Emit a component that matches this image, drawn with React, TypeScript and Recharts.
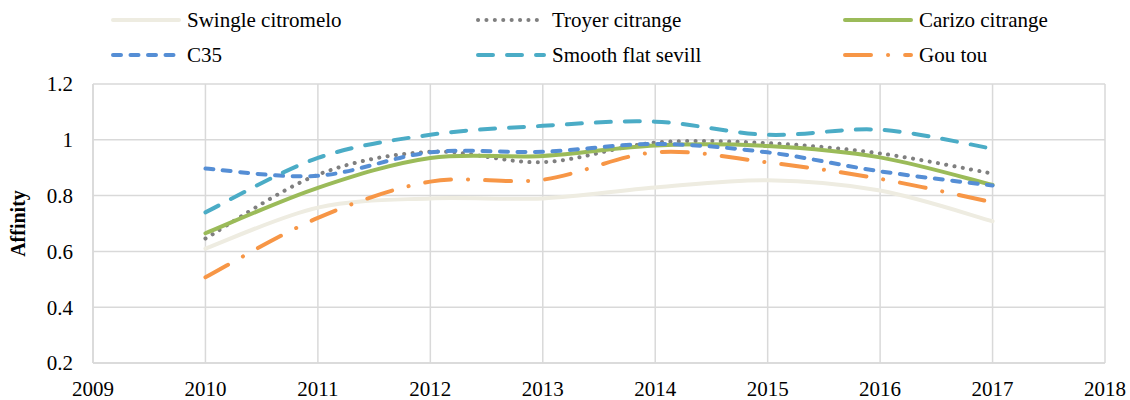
import React from "react";
import { LineChart, Line, XAxis, YAxis, CartesianGrid } from "recharts";

const years = [2010, 2011, 2012, 2013, 2014, 2015, 2016, 2017];
const swingle = [0.61, 0.757, 0.79, 0.79, 0.829, 0.855, 0.818, 0.708];
const troyer = [0.646, 0.875, 0.957, 0.92, 0.99, 0.988, 0.951, 0.879];
const carizo = [0.665, 0.828, 0.935, 0.942, 0.98, 0.978, 0.937, 0.838];
const c35 = [0.897, 0.871, 0.955, 0.957, 0.985, 0.955, 0.887, 0.836];
const smooth = [0.74, 0.935, 1.018, 1.05, 1.065, 1.018, 1.036, 0.968];
const goutou = [0.507, 0.72, 0.85, 0.857, 0.955, 0.919, 0.86, 0.776];

const xTicks = [2009, 2010, 2011, 2012, 2013, 2014, 2015, 2016, 2017, 2018];
const yTicks = [0.2, 0.4, 0.6, 0.8, 1, 1.2];

const data = years.map((year, i) => ({
  year,
  swingle: swingle[i],
  troyer: troyer[i],
  carizo: carizo[i],
  c35: c35[i],
  smooth: smooth[i],
  goutou: goutou[i],
}));

const FONT = "'Liberation Serif', serif";

const series = [
  { key: "swingle", name: "Swingle citromelo", color: "#EEECE1", dash: undefined },
  { key: "troyer", name: "Troyer citrange", color: "#7F7F7F", dash: "0.1 8.3" },
  { key: "carizo", name: "Carizo citrange", color: "#9BBB59", dash: undefined },
  { key: "c35", name: "C35", color: "#558ED5", dash: "8 9.5" },
  { key: "smooth", name: "Smooth flat sevill", color: "#4BACC6", dash: "15 14" },
  { key: "goutou", name: "Gou tou", color: "#F79646", dash: "26 17 0.1 17" },
];

// Excel-style smoothed line (Catmull-Rom through the points)
function excelCurve(context: any) {
  let pts: number[][] = [];
  return {
    areaStart() {},
    areaEnd() {},
    lineStart() {
      pts = [];
    },
    point(x: number, y: number) {
      pts.push([+x, +y]);
    },
    lineEnd() {
      const n = pts.length;
      if (!n) return;
      context.moveTo(pts[0][0], pts[0][1]);
      for (let i = 0; i < n - 1; i++) {
        const p0 = pts[Math.max(i - 1, 0)];
        const p1 = pts[i];
        const p2 = pts[i + 1];
        const p3 = pts[Math.min(i + 2, n - 1)];
        context.bezierCurveTo(
          p1[0] + (p2[0] - p0[0]) / 6,
          p1[1] + (p2[1] - p0[1]) / 6,
          p2[0] - (p3[0] - p1[0]) / 6,
          p2[1] - (p3[1] - p1[1]) / 6,
          p2[0],
          p2[1]
        );
      }
    },
  };
}

const legendCols = [111, 476, 843];
const legendRows = [20, 55];

function ChartLegend() {
  return (
    <svg
      width={1130}
      height={75}
      style={{ position: "absolute", left: 0, top: 0, pointerEvents: "none" }}
    >
      {series.map((s, i) => {
        const x = legendCols[i % 3];
        const y = legendRows[Math.floor(i / 3)];
        return (
          <g key={s.key}>
            <line
              x1={x + 2}
              y1={y}
              x2={x + 68}
              y2={y}
              stroke={s.color}
              strokeWidth={4}
              strokeLinecap="round"
              strokeDasharray={s.dash}
            />
            <text x={x + 76} y={y + 7} style={{ fontFamily: FONT, fontSize: 21 }} fill="#000">
              {s.name}
            </text>
          </g>
        );
      })}
    </svg>
  );
}

export default function App() {
  return (
    <div
      style={{
        position: "absolute",
        left: 0,
        top: 0,
        width: 1130,
        height: 400,
        background: "#fff",
      }}
    >
      <LineChart
        width={1130}
        height={400}
        data={data}
        margin={{ top: 84, right: 25, bottom: 7, left: 0 }}
      >
        <CartesianGrid stroke="#D9D9D9" strokeWidth={1.5} />
        <XAxis
          dataKey="year"
          type="number"
          domain={[2009, 2018]}
          ticks={xTicks}
          interval={0}
          height={30}
          axisLine={{ stroke: "#D9D9D9", strokeWidth: 1.5 }}
          tickLine={false}
          tickMargin={12}
          tick={{ fontSize: 21, fill: "#000", fontFamily: FONT }}
        />
        <YAxis
          type="number"
          domain={[0.2, 1.2]}
          ticks={yTicks}
          interval={0}
          width={93}
          axisLine={{ stroke: "#D9D9D9", strokeWidth: 1.5 }}
          tickLine={false}
          tickMargin={14}
          tick={{ fontSize: 21, fill: "#000", fontFamily: FONT }}
          label={{
            value: "Affinity",
            angle: -90,
            position: "insideLeft",
            offset: 18,
            style: {
              fontSize: 20,
              fontWeight: "bold",
              fill: "#000",
              fontFamily: FONT,
              textAnchor: "middle",
            },
          }}
        />
        {series.map((s) => (
          <Line
            key={s.key}
            dataKey={s.key}
            name={s.name}
            type={excelCurve as any}
            stroke={s.color}
            strokeWidth={4}
            strokeLinecap="round"
            strokeDasharray={s.dash}
            dot={false}
            activeDot={false}
            isAnimationActive={false}
          />
        ))}
      </LineChart>
      <ChartLegend />
    </div>
  );
}
